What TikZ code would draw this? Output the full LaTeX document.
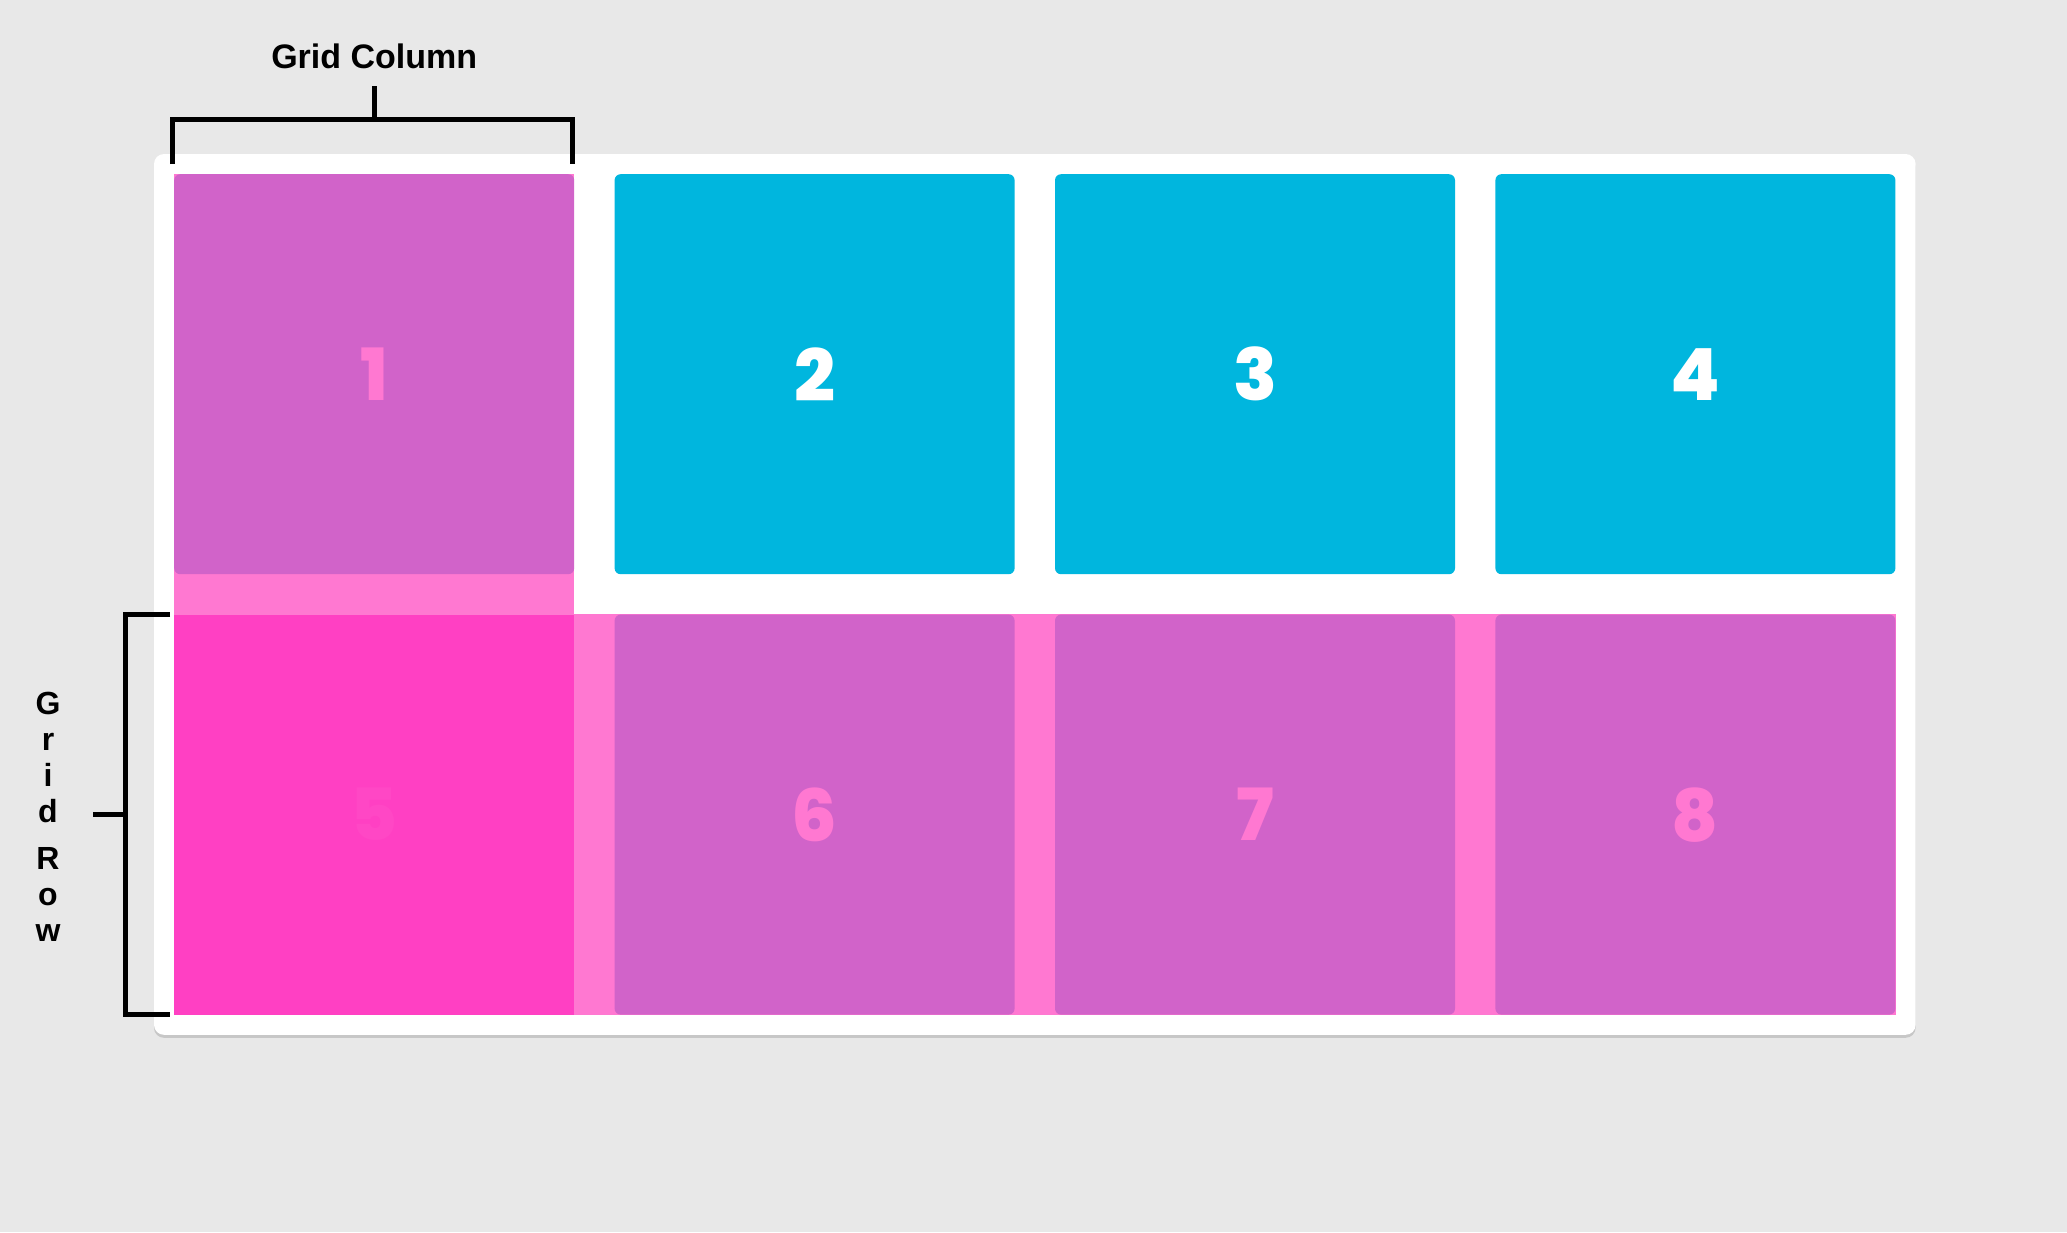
\documentclass[tikz,border=0pt]{standalone}
\usepackage{fontspec}
\setmainfont{Liberation Sans}
\newfontfamily\numfont{Poppins}[BoldFont={Poppins ExtraBold}]
\usetikzlibrary{positioning,backgrounds}
\definecolor{canvas}{HTML}{E8E8E8}
\definecolor{cellblue}{HTML}{00B6DE}
\definecolor{cellpurple}{HTML}{D163C9}
\definecolor{bandpink}{HTML}{FF78D1}
\definecolor{hotpink}{HTML}{FF40C3}
\definecolor{fivepink}{HTML}{FF47C5}

\begin{document}
\begin{tikzpicture}[
  x=1pt,y=-1pt,
  cell/.style={minimum width=400pt,minimum height=400pt,inner sep=0pt,rounded corners=6pt,
    font=\numfont\bfseries\fontsize{72}{72}\selectfont},
  track/.style={cell,fill=cellblue,text=white},
  picked/.style={cell,fill=cellpurple,text=bandpink},
  cross/.style={cell,sharp corners,fill=hotpink,text=fivepink},
  bracket/.style={line width=5pt,draw=black},
  tag/.style={font=\bfseries\fontsize{34}{36}\selectfont,inner sep=0pt},
  node distance=40pt
]
\useasboundingbox (0,0) rectangle (2067,1232);
\node[picked,anchor=north west] (c1) at (174,174) {1};
\node[track,right=of c1] (c2) {2};
\node[track,right=of c2] (c3) {3};
\node[track,right=of c3] (c4) {4};
\node[cross,below=of c1] (c5) {5};
\node[picked,right=of c5] (c6) {6};
\node[picked,right=of c6] (c7) {7};
\node[picked,right=of c7] (c8) {8};

\begin{pgfonlayer}{background}
\fill[canvas] (0,0) rectangle (2067,1232);
\fill[black!22,rounded corners=10pt] ([xshift=-20pt,yshift=17pt]c1.north west) rectangle ([xshift=20pt,yshift=-23pt]c8.south east);
\fill[white,rounded corners=10pt] ([xshift=-20pt,yshift=20pt]c1.north west) rectangle ([xshift=20pt,yshift=-20pt]c8.south east);
\fill[bandpink] (c1.north west) rectangle (c5.south east);
\fill[bandpink] (c5.north west) rectangle (c8.south east);
\end{pgfonlayer}

\coordinate (colL) at ([xshift=-2pt,yshift=10pt]c1.north west);
\coordinate (colR) at ([xshift=-2pt,yshift=10pt]c1.north east);
\coordinate (colTick) at ([yshift=55pt]c1.north);
\draw[bracket] (colL) -- ++(0,-45) -| (colR);
\draw[bracket] (colTick) -- ++(0,-33) coordinate (colTop);
\node[tag,anchor=base] (collabel) at ([yshift=18pt]colTop) {Grid Column};

\coordinate (rowT) at ([xshift=-4pt]c5.north west);
\coordinate (rowB) at ([xshift=-4pt]c5.south west);
\coordinate (rowTick) at ([xshift=-49pt]c5.west);
\draw[bracket] (rowT) -- ++(-45,0) |- (rowB);
\draw[bracket] (rowTick) -- ++(-32,0) coordinate (rowEnd);
\node[tag,align=center,font=\bfseries\fontsize{32}{36}\selectfont] (rowlabel) at ([xshift=-45pt,yshift=-2pt]rowEnd) {G\\r\\i\\d\\[11pt]R\\o\\w};
\end{tikzpicture}
\end{document}
